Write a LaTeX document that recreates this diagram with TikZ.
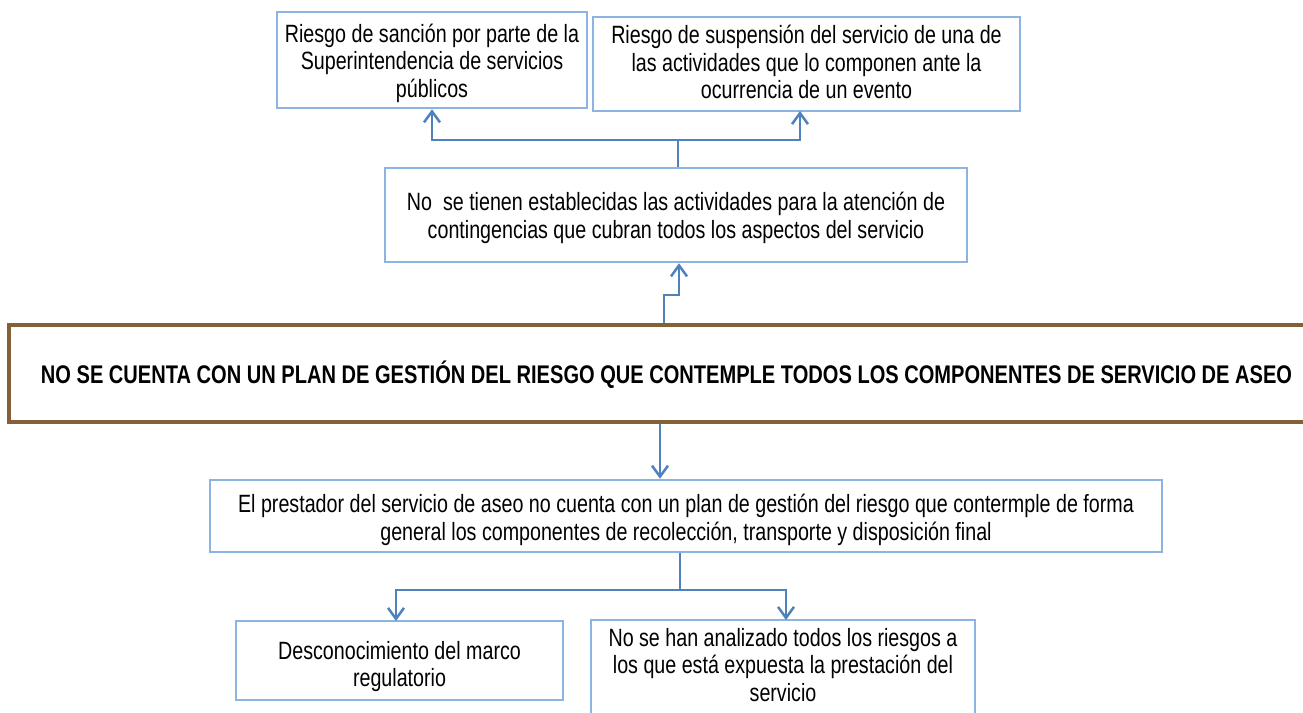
\documentclass[tikz,border=0pt]{standalone}
\usepackage{fontspec}
\setmainfont[FakeStretch=0.787]{Liberation Sans}
\usetikzlibrary{arrows.meta,calc}
\definecolor{boxblue}{RGB}{141,179,226}
\definecolor{arrowblue}{RGB}{79,129,189}
\definecolor{mainbrown}{RGB}{132,96,56}
\tikzset{
  x=1pt,y=-1pt,
  bluebox/.style={draw=boxblue,line width=2.5pt,fill=white,rectangle,inner sep=0pt},
  txt/.style={inner sep=0pt,align=center,font=\fontsize{25}{27.5}\selectfont},
  mainbox/.style={draw=mainbrown,line width=3.5pt,fill=white,rectangle,inner sep=0pt},
  maintext/.style={font=\fontsize{25.5}{27.5}\selectfont\bfseries,inner sep=0pt},
  conn/.style={draw=arrowblue,line width=2.5pt},
  arr/.style={conn,-{Straight Barb[length=11pt,width=16pt,line width=2.5pt]}}
}
\begin{document}
\begin{tikzpicture}
\useasboundingbox (0,0) rectangle (1303,712);
\node[bluebox,minimum width=310,minimum height=96] (a) at (432,60) {};
\node[txt] (at) at ($(a.center)+(0,3)$)
  {Riesgo de sanción por parte de la\\Superintendencia de servicios\\públicos};
\node[bluebox,minimum width=427,minimum height=94] (b) at (806.5,64) {};
\node[txt] (bt) at ($(b.center)+(0,-2)$)
  {Riesgo de suspensión del servicio de una de\\las actividades que lo componen ante la\\ocurrencia de un evento};
\node[bluebox,minimum width=582,minimum height=94] (c) at (676,215) {};
\node[txt] (ct) at ($(c.center)+(0,3)$)
  {No\ \ se tienen establecidas las actividades para la atención de\\contingencias que cubran todos los aspectos del servicio};
\node[mainbox,minimum width=1301,minimum height=97] (m) at (659.5,373.5) {};
\node[maintext] (mt) at (666.5,375)
  {NO SE CUENTA CON UN PLAN DE GESTIÓN DEL RIESGO QUE CONTEMPLE TODOS LOS COMPONENTES DE SERVICIO DE ASEO};
\node[bluebox,minimum width=952,minimum height=72] (d) at (686,516) {};
\node[txt] (dt) at ($(d.center)+(0,4)$)
  {El prestador del servicio de aseo no cuenta con un plan de gestión del riesgo que contermple de forma\\general los componentes de recolección, transporte y disposición final};
\node[bluebox,minimum width=327,minimum height=79] (e) at (399.5,660.5) {};
\node[txt] (et) at ($(e.center)+(0,6)$)
  {Desconocimiento del marco\\regulatorio};
\node[bluebox,minimum width=384,minimum height=110] (f) at (783,675) {};
\node[txt] (ft) at ($(f.center)+(0,-10)$)
  {No se han analizado todos los riesgos a\\los que está expuesta la prestación del\\servicio};
% connectors
\coordinate (j1) at (678,140);
\draw[conn] (c.north -| j1) -- (j1);
\draw[arr] (j1) -| (a.south);
\draw[arr] (j1) -| (800,111);
\coordinate (s1) at (664,295);
\coordinate (s2) at (679,295);
\draw[arr] (m.north -| s1) -- (s1) -- (s2) -- (c.south -| s2);
\coordinate (k1) at (660,424);
\draw[arr] (m.south -| k1) -- (d.north -| k1);
\coordinate (j2) at (680,590);
\draw[conn] (d.south -| j2) -- (j2);
\draw[arr] (j2) -| (396,621);
\draw[arr] (j2) -| (786,620);
\end{tikzpicture}
\end{document}
